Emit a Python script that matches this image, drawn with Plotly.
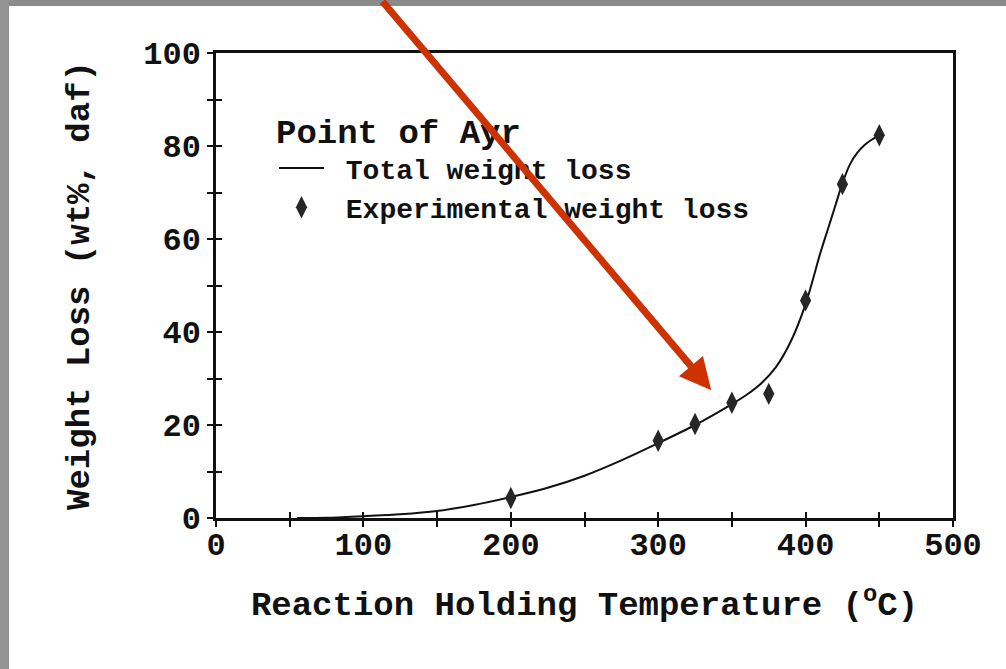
import plotly.graph_objects as go

# Model curve: total weight loss (wt%, daf) vs reaction holding temperature (°C)
curve_temp = [55, 75, 100, 125, 150, 175, 200, 225, 250, 275, 300, 325, 350, 360, 370,
              380, 390, 400, 410, 415, 420, 425, 430, 435, 440, 445, 450]
curve_loss = [0.0, 0.05, 0.4, 0.8, 1.5, 2.8, 4.5, 6.5, 9.1, 12.4, 16.1, 20.0, 24.5, 26.5, 29.0,
              32.5, 38.0, 46.0, 57.0, 62.0, 67.0, 72.0, 76.0, 78.5, 80.2, 81.4, 82.3]

# Experimental points
exp_temp = [200, 300, 325, 350, 375, 400, 425, 450]
exp_loss = [4.3, 16.6, 20.2, 24.8, 26.7, 46.8, 71.8, 82.3]

x_ticks = [0, 100, 200, 300, 400, 500]
y_ticks = [0, 20, 40, 60, 80, 100]

FONT = "Courier New, Liberation Mono, DejaVu Sans Mono, monospace"
INK = "#111111"
W, H = 1006, 669
ML, MR, MT, MB = 216, 53, 53, 151
PW, PH = W - ML - MR, H - MT - MB

fig = go.Figure()
fig.add_trace(go.Scatter(
    x=curve_temp, y=curve_loss, mode="lines", name=" Total weight loss",
    line=dict(color=INK, width=2, shape="spline", smoothing=0.8),
))
fig.add_trace(go.Scatter(
    x=exp_temp, y=exp_loss, mode="markers", name=" Experimental weight loss",
    marker=dict(symbol="diamond-tall", size=16, color="#262626", line=dict(width=0)),
))
# helper trace on overlaid axes (for inside tick marks)
fig.add_trace(go.Scatter(
    x=exp_temp, y=exp_loss, xaxis="x2", yaxis="y2", mode="markers",
    marker=dict(opacity=0), showlegend=False, hoverinfo="skip",
))

axis_common = dict(showgrid=False, zeroline=False, showline=True, linecolor=INK,
                   linewidth=2.5, mirror=True, ticks="outside", ticklen=6, tickwidth=2,
                   tickcolor=INK,
                   tickfont=dict(family=FONT, size=32, color=INK, weight="bold"))

fig.update_layout(
    width=W, height=H,
    margin=dict(l=ML, r=MR, t=MT, b=MB),
    paper_bgcolor="white", plot_bgcolor="white",
    font=dict(family=FONT, color=INK),
    xaxis=dict(range=[0, 500], tickvals=x_ticks, ticklabelstandoff=-10,
               minor=dict(dtick=50, ticks="outside", ticklen=6, tickwidth=2, tickcolor=INK),
               title=dict(text="<b>Reaction Holding Temperature (<sup>o</sup>C)</b>",
                          font=dict(family=FONT, size=34, color=INK), standoff=28),
               **axis_common),
    yaxis=dict(range=[0, 100], tickvals=y_ticks,
               minor=dict(dtick=10, ticks="outside", ticklen=6, tickwidth=2, tickcolor=INK),
               title=dict(text="<b>Weight Loss (wt%, daf)</b>",
                          font=dict(family=FONT, size=34, color=INK), standoff=44),
               **axis_common),
    xaxis2=dict(overlaying="x", matches="x", range=[0, 500], dtick=50, ticks="inside",
                ticklen=6, tickwidth=2, tickcolor=INK, showticklabels=False,
                showgrid=False, zeroline=False, showline=False, side="bottom"),
    yaxis2=dict(overlaying="y", matches="y", range=[0, 100], dtick=10, ticks="inside",
                ticklen=6, tickwidth=2, tickcolor=INK, showticklabels=False,
                showgrid=False, zeroline=False, showline=False, side="left"),
    legend=dict(
        x=(274 - ML) / PW, y=(518 - 99) / PH, xanchor="left", yanchor="top",
        bgcolor="rgba(0,0,0,0)", borderwidth=0, itemwidth=45,
        title=dict(text="<b>Point of Ayr</b>", font=dict(family=FONT, size=34, color=INK)),
        font=dict(family=FONT, size=28, color=INK, weight="bold"),
        tracegroupgap=0,
    ),
    showlegend=True,
)

# grey slide-frame strips (top and left edges)
fig.add_shape(type="rect", xref="paper", yref="paper",
              x0=-ML / PW, x1=(W - ML) / PW, y0=(H - MB - 6) / PH, y1=(H - MB) / PH,
              fillcolor="#8a8a8a", line=dict(width=0), layer="above")
fig.add_shape(type="rect", xref="paper", yref="paper",
              x0=-ML / PW, x1=(9 - ML) / PW, y0=-MB / PH, y1=(H - MB) / PH,
              fillcolor="#939393", line=dict(width=0), layer="above")

# red arrow pointing at the curve
fig.add_annotation(
    x=336, y=27.5, xref="x", yref="y", text="", showarrow=True,
    ax=-330, ay=-394, axref="pixel", ayref="pixel",
    arrowhead=2, arrowsize=0.9, arrowwidth=7, arrowcolor="#cc3300",
)

fig.write_html("out.html")
